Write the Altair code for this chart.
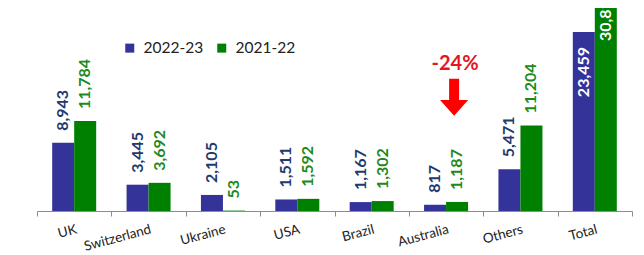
import altair as alt
import pandas as pd

categories = ["UK", "Switzerland", "Ukraine", "USA", "Brazil", "Australia", "Others", "Total"]
series = ["2022-23", "2021-22"]
values_2022_23 = [8943, 3445, 2105, 1511, 1167, 817, 5471, 23459]
values_2021_22 = [11784, 3692, 53, 1592, 1302, 1187, 11204, 30814]
bar_colors = ["#333399", "#008000"]
label_colors = ["#1F3A6E", "#1E8A1E"]

change_text = ["-24%"]
change_cat = ["Australia"]
change_series = ["2021-22"]
change_text_y = [18500]
change_arrow_y = [14900]

Y_MAX = 26600

rows = []
for c, a, b in zip(categories, values_2022_23, values_2021_22):
    rows.append({"cat": c, "series": series[0], "value": a})
    rows.append({"cat": c, "series": series[1], "value": b})
df = pd.DataFrame(rows)

ann = pd.DataFrame({"cat": change_cat, "series": change_series, "label": change_text,
                    "ty": change_text_y, "ay": change_arrow_y})

x = alt.X("cat:N", sort=categories,
          scale=alt.Scale(paddingInner=0, paddingOuter=0),
          axis=alt.Axis(title=None, labelAngle=345, labelAlign="right", labelBaseline="top",
                        tickBand="extent", tickSize=5, tickColor="#8c8c8c", domainColor="#8c8c8c",
                        labelFont="Lato", labelFontSize=13.5, labelColor="#222222",
                        labelPadding=6, grid=False))
xo = alt.XOffset("series:N", sort=series, scale=alt.Scale(paddingInner=0, paddingOuter=0.69))
y = alt.Y("value:Q", scale=alt.Scale(domain=[0, Y_MAX], nice=False, zero=True), axis=None)

bars = alt.Chart(df).mark_bar(clip=True).encode(
    x=x, xOffset=xo, y=y,
    color=alt.Color("series:N", sort=series,
                    scale=alt.Scale(domain=series, range=bar_colors),
                    legend=alt.Legend(orient="none", legendX=85, legendY=32, direction="horizontal",
                                      title=None, symbolType="square", symbolSize=81,
                                      symbolStrokeWidth=0, symbolOpacity=1,
                                      labelFont="Lato", labelFontSize=15.5, labelColor="#222222",
                                      columnPadding=10, labelOffset=6, padding=0)),
)

outside = alt.Chart(df).transform_filter(alt.datum.cat != "Total").mark_text(
    angle=270, align="left", baseline="middle", dx=12, font="Lato", fontWeight="bold",
    fontSize=16, clip=True
).encode(
    x=x, xOffset=xo, y=y,
    text=alt.Text("value:Q", format=","),
    color=alt.condition(alt.datum.series == series[0], alt.value(label_colors[0]), alt.value(label_colors[1])),
)

inside = alt.Chart(df).transform_filter(alt.datum.cat == "Total").mark_text(
    angle=270, align="right", baseline="middle", dx=-15, font="Lato", fontWeight="bold",
    fontSize=16, clip=True, color="white"
).encode(
    x=x, xOffset=xo, y=y,
    text=alt.Text("value:Q", format=","),
)

ann_text = alt.Chart(ann).mark_text(
    font="Lato", fontWeight="bold", fontSize=20, color="#E3171E", align="center",
    baseline="alphabetic", dx=-2
).encode(
    x=x, xOffset=xo,
    y=alt.Y("ty:Q", scale=alt.Scale(domain=[0, Y_MAX], nice=False), axis=None),
    text="label:N",
)

arrow_path = "M-0.43,-1 L0.11,-1 L0.11,0.14 L0.6,0.14 L-0.16,1 L-0.92,0.14 L-0.43,0.14 Z"
ann_arrow = alt.Chart(ann).mark_point(
    shape=arrow_path, filled=True, size=1369, color="#FF0000", opacity=1, strokeWidth=0
).encode(
    x=x, xOffset=xo,
    y=alt.Y("ay:Q", scale=alt.Scale(domain=[0, Y_MAX], nice=False), axis=None),
)

chart = alt.layer(bars, outside, inside, ann_text, ann_arrow).properties(
    width=595, height=203, autosize="none",
    padding={"left": 29, "top": 0, "right": 4, "bottom": 43},
).configure_view(stroke=None)

chart.save("out.html", embed_options={"renderer": "svg", "actions": False})
